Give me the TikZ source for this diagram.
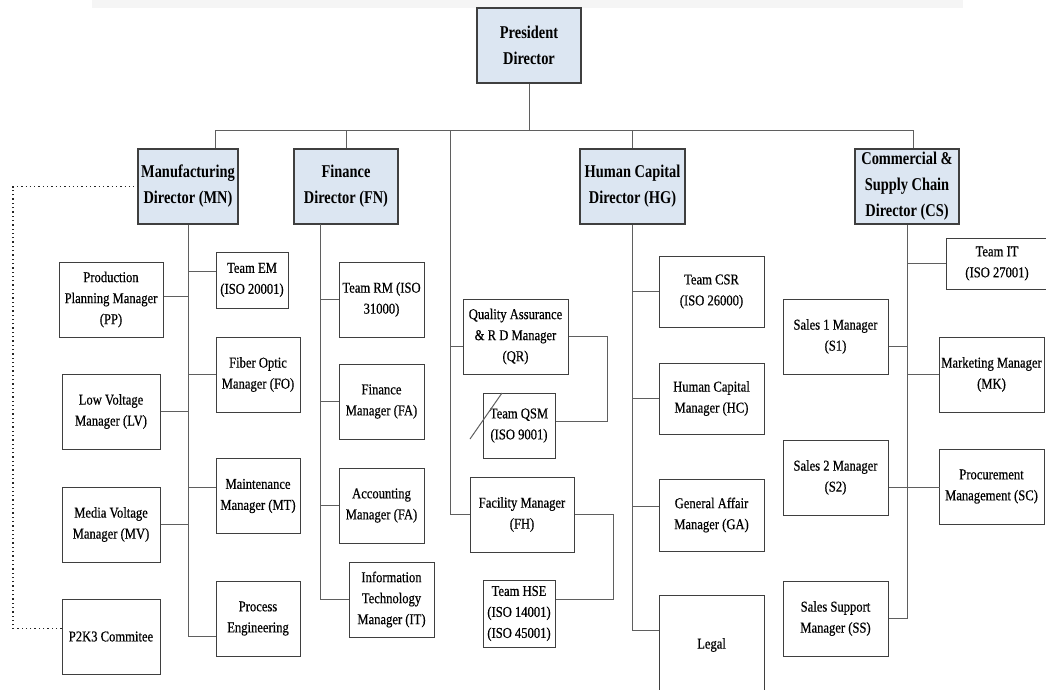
\documentclass[tikz,border=0pt]{standalone}
\usepackage{fontspec}
\setmainfont{Liberation Serif}[FakeStretch=0.8]
\newfontfamily\unitfont{Liberation Serif}[FakeStretch=0.84,FakeBold=0.5]
\definecolor{dirblue}{HTML}{DCE6F2}
\definecolor{boxline}{HTML}{3F3F3F}
\definecolor{linkgray}{HTML}{5F5F5F}

\begin{document}
\begin{tikzpicture}[x=1pt,y=-1pt,
  dir/.style={draw=boxline,fill=dirblue,line width=1.2pt,align=center,inner sep=2pt,
    minimum width=104,minimum height=75,font=\bfseries\fontsize{18}{26}\selectfont},
  unit/.style={draw=boxline,fill=white,line width=1pt,align=center,inner sep=2pt,
    minimum width=105,minimum height=75,font=\unitfont\fontsize{15}{21}\selectfont},
  link/.style={draw=linkgray,line width=1pt}]
  \useasboundingbox (0,0) rectangle (1046,689);
  \clip (0,0) rectangle (1046,689);
  \fill[black!4] (92,0) rectangle (963,8);

  \node[dir] (pres) at (529,45.5) {President\\Director};
  \node[dir,minimum width=100] (mn) at (188,186.5) {Manufacturing\\Director (MN)};
  \node[dir] (fn) at (346,186.5) {Finance\\Director (FN)};
  \node[dir,minimum width=105] (hg) at (632.5,186.5) {Human Capital\\Director (HG)};
  \node[dir] (cs) at (907,186.5) {Commercial \&\\Supply Chain\\Director (CS)};

  % manufacturing
  \node[unit,minimum width=104] (pp) at (111,299.5) {Production\\Planning Manager\\(PP)};
  \node[unit,minimum width=98] (lv) at (111,411.5) {Low Voltage\\Manager (LV)};
  \node[unit,minimum width=98] (mv) at (111,524.5) {Media Voltage\\Manager (MV)};
  \node[unit,minimum width=98] (pk) at (111,636.5) {P2K3 Commitee};
  \node[unit,minimum width=72,minimum height=56] (em) at (252,280) {Team EM\\(ISO 20001)};
  \node[unit,minimum width=84] (fo) at (258,374.5) {Fiber Optic\\Manager (FO)};
  \node[unit,minimum width=84] (mt) at (258,496) {Maintenance\\Manager (MT)};
  \node[unit,minimum width=84] (pe) at (258,618.5) {Process\\Engineering};

  % finance
  \node[unit,minimum width=85] (rm) at (381.5,299.5) {Team RM (ISO\\31000)};
  \node[unit,minimum width=85] (fa) at (381.5,401.5) {Finance\\Manager (FA)};
  \node[unit,minimum width=85] (ac) at (381.5,505.5) {Accounting\\Manager (FA)};
  \node[unit,minimum width=85] (it) at (391.5,599.5) {Information\\Technology\\Manager (IT)};

  % quality and facility
  \node[unit] (qr) at (515.5,336.5) {Quality Assurance\\\& R D Manager\\(QR)};
  \node[unit,minimum width=72,minimum height=65] (qsm) at (519,425.5) {Team QSM\\(ISO 9001)};
  \node[unit,minimum width=104] (fh) at (522,514.5) {Facility Manager\\(FH)};
  \node[unit,minimum width=72,minimum height=67] (hse) at (519,613.5) {Team HSE\\(ISO 14001)\\(ISO 45001)};

  % human capital
  \node[unit,minimum height=71] (csr) at (711.5,291.5) {Team CSR\\(ISO 26000)};
  \node[unit,minimum height=71] (hc) at (711.5,398.5) {Human Capital\\Manager (HC)};
  \node[unit,minimum height=72] (ga) at (711.5,515) {General Affair\\Manager (GA)};
  \node[unit,minimum height=100] (legal) at (711.5,645) {Legal};

  % commercial
  \node[unit,minimum width=102,minimum height=51] (tit) at (997,263.5) {Team IT\\(ISO 27001)};
  \node[unit] (s1) at (835.5,336.5) {Sales 1 Manager\\(S1)};
  \node[unit] (mk) at (991.5,374.5) {Marketing Manager\\(MK)};
  \node[unit] (s2) at (835.5,477.5) {Sales 2 Manager\\(S2)};
  \node[unit] (sc) at (991.5,486.5) {Procurement\\Management (SC)};
  \node[unit] (ss) at (835.5,618.5) {Sales Support\\Manager (SS)};

  % top level
  \coordinate (busL) at (215,130);
  \coordinate (busR) at (913,130);
  \coordinate (midtop) at (450,130);
  \coordinate (fnspine) at (320,224);
  \draw[link] (busL) -- (busR);
  \draw[link] (pres.south) -- (pres.south |- busL);
  \draw[link] (busL) -- (busL |- mn.north);
  \draw[link] (fn.north) -- (fn.north |- busL);
  \draw[link] (hg.north) -- (hg.north |- busL);
  \draw[link] (busR) -- (busR |- cs.north);

  \draw[link] (mn.south) |- ([yshift=-18]pe.west);
  \draw[link] ([yshift=3.5]pp.east) -- ++(25,0);
  \draw[link] (lv.east) -- (lv.east -| mn.south);
  \draw[link] (mv.east) -- (mv.east -| mn.south);
  \draw[link] ([yshift=9]em.west) -- ++(-28,0);
  \draw[link] (fo.west) -- (fo.west -| mn.south);
  \draw[link] ([yshift=9]mt.west) -- ++(-28,0);

  \draw[link] (fnspine) |- (it.west);
  \draw[link] (rm.west) -- (rm.west -| fnspine);
  \draw[link] (fa.west) -- (fa.west -| fnspine);
  \draw[link] (ac.west) -- (ac.west -| fnspine);

  \draw[link] (midtop) |- (fh.west);
  \draw[link] ([yshift=-10]qr.west) -- ++(-13,0);
  \draw[link] (qr.east) -- ++(39,0) |- ([yshift=4]qsm.east);
  \draw[link] (fh.east) -- ++(39,0) |- ([yshift=14]hse.east);
  \draw[link] (470,439) -- (502,393);

  \draw[link] (hg.south) |- ([yshift=15]legal.west);
  \draw[link] (csr.west) -- (csr.west -| hg.south);
  \draw[link] (hc.west) -- (hc.west -| hg.south);
  \draw[link] ([yshift=9]ga.west) -- ++(-26.5,0);

  \draw[link] (cs.south) |- (ss.east);
  \draw[link] (tit.west) -- (tit.west -| cs.south);
  \draw[link] ([yshift=-10]s1.east) -- ++(19,0);
  \draw[link] (mk.west) -- (mk.west -| cs.south);
  \draw[link] ([yshift=-10]s2.east) -- ++(51,0);

  % P2K3 dotted link
  \coordinate (dotc) at (13,186.5);
  \draw[black!85,line width=1.3pt,dash pattern=on 1.3pt off 3pt]
    ([yshift=8]pk.west) -| (dotc) -- (mn.west);
\end{tikzpicture}
\end{document}
